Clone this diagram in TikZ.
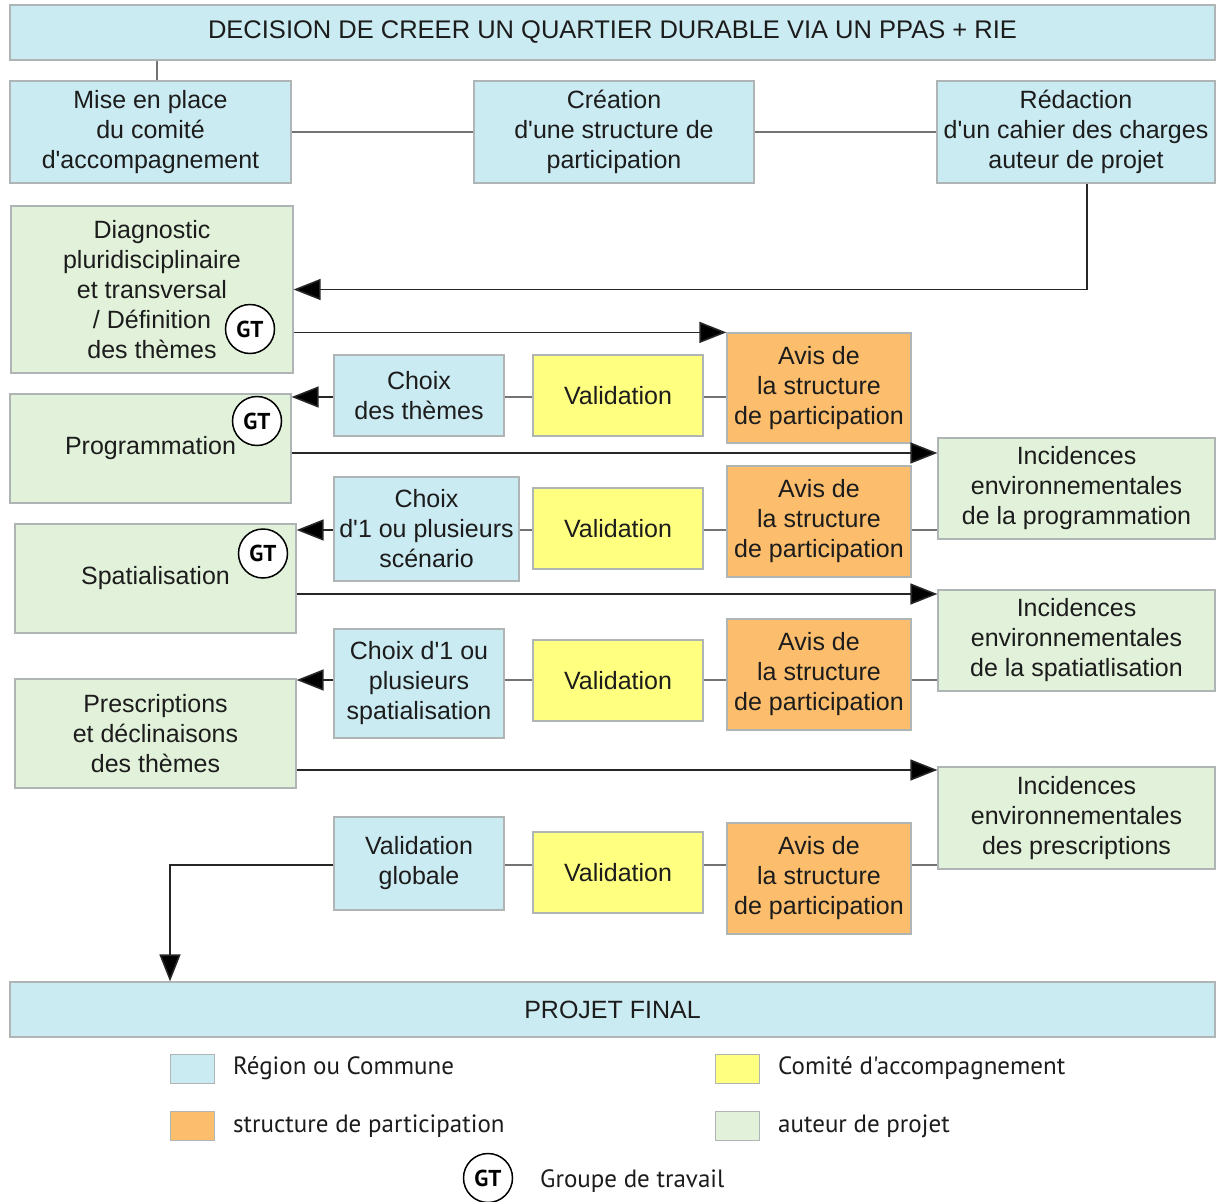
\documentclass[tikz,border=0pt]{standalone}
\usepackage{fontspec}
\setmainfont{Liberation Sans}[Ligatures=TeXOff]
\newfontfamily\legendfont{PT Sans}[Ligatures=TeXOff]
\usetikzlibrary{arrows.meta}

\definecolor{cblue}{RGB}{203,235,242}
\definecolor{cgreen}{RGB}{226,242,218}
\definecolor{cyellow}{RGB}{255,255,128}
\definecolor{corange}{RGB}{252,190,108}
\definecolor{cedge}{RGB}{175,180,180}
\definecolor{ctext}{RGB}{28,28,28}

\begin{document}
\begin{tikzpicture}[x=1pt,y=-1pt,
  box/.style={draw=cedge, line width=1.2pt, align=center, inner sep=0pt,
    text=ctext, font=\fontsize{25}{30}\selectfont},
  region/.style={box, fill=cblue},
  author/.style={box, fill=cgreen},
  comite/.style={box, fill=cyellow},
  partic/.style={box, fill=corange},
  link/.style={draw=black!55, line width=1.5pt},
  arrow/.style={draw=black!85, line width=1.6pt, -{Triangle[length=27pt,width=21pt,fill=black]}},
  gt/.style={circle, draw=black, line width=1.5pt, fill=white, minimum size=49pt,
    inner sep=0pt, font=\legendfont\bfseries\fontsize{23}{23}\selectfont},
  swatch/.style={draw=cedge, line width=1pt, minimum width=44pt, minimum height=29pt, inner sep=0pt},
  legtext/.style={anchor=west, inner sep=0pt, text=ctext, font=\legendfont\fontsize{25}{28}\selectfont}
]
\useasboundingbox (0,0) rectangle (1216,1202);
\fill[white] (0,0) rectangle (1216,1202);

% levels of the horizontal connectors
\coordinate (r1) at (0,397);
\coordinate (r2) at (0,530);
\coordinate (r3) at (0,680);
\coordinate (r4) at (0,865);
\coordinate (a1) at (0,453);
\coordinate (a2) at (0,594);
\coordinate (a3) at (0,770);
\coordinate (drop) at (170,0);

% header
\node[region, minimum width=1205, minimum height=55, font=\fontsize{25.5}{28}\selectfont] (top) at (612.5,32.5)
  {DECISION DE CREER UN QUARTIER DURABLE VIA UN PPAS + RIE};
\node[region, minimum width=281, minimum height=102] (mise) at (150.5,132)
  {Mise en place\\du comité\\d'accompagnement};
\node[region, minimum width=280, minimum height=102] (crea) at (614,132)
  {Création\\d'une structure de\\participation};
\node[region, minimum width=278, minimum height=102] (reda) at (1076,132)
  {Rédaction\\d'un cahier des charges\\auteur de projet};

% author column
\node[author, minimum width=282, minimum height=167] (diag) at (152,289.5)
  {Diagnostic\\pluridisciplinaire\\et transversal\\/ Définition\\des thèmes};
\node[author, minimum width=281, minimum height=109] (prog) at (150.5,448.5) {Programmation};
\node[author, minimum width=281, minimum height=109] (spat) at (155.5,578.5) {Spatialisation};
\node[author, minimum width=281, minimum height=109] (presc) at (155.5,733.5)
  {Prescriptions\\et déclinaisons\\des thèmes};

% work groups
\node[gt] (gt1) at (250,329) {GT};
\node[gt] (gt2) at (257,421) {GT};
\node[gt] (gt3) at (263,553.5) {GT};

% choices
\node[region, minimum width=170, minimum height=81] (choix1) at (419,395.5) {Choix\\des thèmes};
\node[region, minimum width=185, minimum height=104] (choix2) at (426.5,529) {Choix\\d'1 ou plusieurs\\scénario};
\node[region, minimum width=170, minimum height=109] (choix3) at (419,683.5) {Choix d'1 ou\\plusieurs\\spatialisation};
\node[region, minimum width=170, minimum height=93] (vg) at (419,863.5) {Validation\\globale};

% validations
\node[comite, minimum width=170, minimum height=81] (val1) at (618,395.5) {Validation};
\node[comite, minimum width=170, minimum height=81] (val2) at (618,528.5) {Validation};
\node[comite, minimum width=170, minimum height=81] (val3) at (618,680.5) {Validation};
\node[comite, minimum width=170, minimum height=81] (val4) at (618,872.5) {Validation};

% participation opinions
\node[partic, minimum width=184, minimum height=110] (avis1) at (819,388) {Avis de\\la structure\\de participation};
\node[partic, minimum width=184, minimum height=111] (avis2) at (819,521.5) {Avis de\\la structure\\de participation};
\node[partic, minimum width=184, minimum height=111] (avis3) at (819,674.5) {Avis de\\la structure\\de participation};
\node[partic, minimum width=184, minimum height=111] (avis4) at (819,878.5) {Avis de\\la structure\\de participation};

% environmental impacts
\node[author, minimum width=277, minimum height=101] (inc1) at (1076.5,488.5)
  {Incidences\\environnementales\\de la programmation};
\node[author, minimum width=277, minimum height=101] (inc2) at (1076.5,640.5)
  {Incidences\\environnementales\\de la spatiatlisation};
\node[author, minimum width=277, minimum height=102] (inc3) at (1076.5,818)
  {Incidences\\environnementales\\des prescriptions};

% final project
\node[region, minimum width=1205, minimum height=55, font=\fontsize{25}{28}\selectfont] (projet) at (612.5,1009.5)
  {PROJET FINAL};

% connectors of the header
\draw[link] ([xshift=6.5pt]mise.north) -- ([xshift=6.5pt]mise.north |- top.south);
\draw[link] (mise) -- (crea);
\draw[link] (crea) -- (reda);
\draw[arrow] ([xshift=11pt]reda.south) |- (diag.east);
\draw[arrow] (diag.east |- avis1.north) -- (avis1.north west);

% row 1
\draw[link] (choix1.east |- r1) -- (val1.west |- r1);
\draw[link] (val1.east |- r1) -- (avis1.west |- r1);
\draw[arrow] (choix1.west |- r1) -- (prog.east |- r1);
\draw[arrow] (prog.east |- a1) -- (inc1.west |- a1);

% row 2
\draw[link] (choix2.east |- r2) -- (val2.west |- r2);
\draw[link] (val2.east |- r2) -- (avis2.west |- r2);
\draw[link] (avis2.east |- r2) -- (inc1.west |- r2);
\draw[arrow] (choix2.west |- r2) -- (spat.east |- r2);
\draw[arrow] (spat.east |- a2) -- (inc2.west |- a2);

% row 3
\draw[link] (choix3.east |- r3) -- (val3.west |- r3);
\draw[link] (val3.east |- r3) -- (avis3.west |- r3);
\draw[link] (avis3.east |- r3) -- (inc2.west |- r3);
\draw[arrow] (choix3.west |- r3) -- (presc.east |- r3);
\draw[arrow] (presc.east |- a3) -- (inc3.west |- a3);

% row 4
\draw[link] (vg.east |- r4) -- (val4.west |- r4);
\draw[link] (val4.east |- r4) -- (avis4.west |- r4);
\draw[link] (avis4.east |- r4) -- (inc3.west |- r4);
\draw[arrow] (vg.west |- r4) -| (drop |- projet.north);

% legend
\node[swatch, fill=cblue] (sw1) at (192,1068.5) {};
\node[legtext] (lt1) at (233,1068) {Région ou Commune};
\node[swatch, fill=cyellow] (sw2) at (737,1068.5) {};
\node[legtext] (lt2) at (778,1068) {Comité d'accompagnement};
\node[swatch, fill=corange] (sw3) at (192,1126) {};
\node[legtext] (lt3) at (233,1126) {structure de participation};
\node[swatch, fill=cgreen] (sw4) at (737,1126) {};
\node[legtext] (lt4) at (778,1126) {auteur de projet};
\node[gt] (gt4) at (488,1178) {GT};
\node[legtext] (lt5) at (540,1181) {Groupe de travail};
\end{tikzpicture}
\end{document}
